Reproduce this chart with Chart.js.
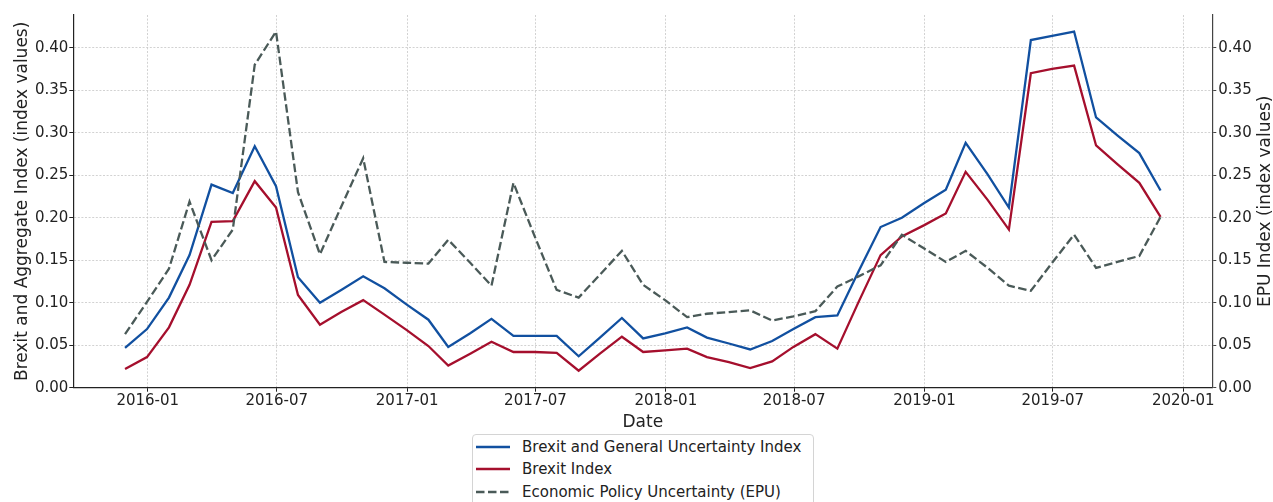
<!DOCTYPE html>
<html>
<head>
<meta charset="utf-8">
<script src="https://cdn.jsdelivr.net/npm/chart.js@4.4.0/dist/chart.umd.min.js"></script>
<style>
  html, body { margin: 0; padding: 0; background: #fff; overflow: hidden; }
  #wrap { position: relative; width: 1273px; height: 502px; }
  #legend {
    position: absolute; left: 472px; top: 434px; width: 342px; height: 90px;
    box-sizing: border-box; border: 1px solid #d4d4d4; border-radius: 4px;
    background: #fff; padding-top: 0.5px;
    font: 15px "DejaVu Sans", sans-serif; color: #222;
  }
  .row { height: 22.5px; line-height: 22.5px; display: flex; align-items: center; padding-left: 3px; white-space: nowrap; }
  .row svg { margin-right: 12px; flex: none; }
</style>
</head>
<body>
<div id="wrap">
  <canvas id="chart" width="1273" height="502"></canvas>
  <div id="legend"></div>
</div>
<script>
// monthly observations (month-end)
const months = [
  '2015-11', '2015-12',
  '2016-01', '2016-02', '2016-03', '2016-04', '2016-05', '2016-06',
  '2016-07', '2016-08', '2016-09', '2016-10', '2016-11', '2016-12',
  '2017-01', '2017-02', '2017-03', '2017-04', '2017-05', '2017-06',
  '2017-07', '2017-08', '2017-09', '2017-10', '2017-11', '2017-12',
  '2018-01', '2018-02', '2018-03', '2018-04', '2018-05', '2018-06',
  '2018-07', '2018-08', '2018-09', '2018-10', '2018-11', '2018-12',
  '2019-01', '2019-02', '2019-03', '2019-04', '2019-05', '2019-06',
  '2019-07', '2019-08', '2019-09', '2019-10', '2019-11'
];

const brexitGeneral = [
  0.047, 0.069,
  0.106, 0.156, 0.239, 0.229, 0.284, 0.237,
  0.130, 0.100, 0.115, 0.131, 0.117, 0.098,
  0.080, 0.048, 0.064, 0.081, 0.061, 0.061,
  0.061, 0.037, 0.059, 0.082, 0.058, 0.064,
  0.071, 0.059, 0.052, 0.045, 0.055, 0.069,
  0.083, 0.085, 0.137, 0.189, 0.200, 0.217,
  0.233, 0.288, 0.251, 0.212, 0.409, 0.414,
  0.419, 0.318, 0.297, 0.276, 0.232
];

const brexitOnly = [
  0.022, 0.036,
  0.071, 0.121, 0.195, 0.196, 0.243, 0.212,
  0.109, 0.074, 0.089, 0.103, 0.086, 0.068,
  0.049, 0.026, 0.040, 0.054, 0.042, 0.042,
  0.041, 0.020, 0.040, 0.060, 0.042, 0.044,
  0.046, 0.036, 0.030, 0.023, 0.031, 0.048,
  0.063, 0.046, 0.101, 0.156, 0.178, 0.191,
  0.205, 0.254, 0.221, 0.186, 0.370, 0.375,
  0.379, 0.285, 0.263, 0.241, 0.201
];

const epu = [
  0.063, 0.101,
  0.140, 0.219, 0.150, 0.186, 0.380, 0.419,
  0.230, 0.157, 0.213, 0.270, 0.148, 0.147,
  0.146, 0.174, 0.147, 0.120, 0.241, 0.178,
  0.115, 0.106, 0.133, 0.161, 0.121, 0.103,
  0.083, 0.087, 0.089, 0.091, 0.079, 0.084,
  0.090, 0.119, 0.131, 0.144, 0.180, 0.164,
  0.148, 0.161, 0.141, 0.120, 0.114, 0.147,
  0.180, 0.141, 0.148, 0.155, 0.201
];

const xTickLabels = ['2016-01', '2016-07', '2017-01', '2017-07', '2018-01', '2018-07', '2019-01', '2019-07', '2020-01'];
const yTickValues = [0, 0.05, 0.10, 0.15, 0.20, 0.25, 0.30, 0.35, 0.40];

const xRange = ['2015-09-18', '2020-02-11'];
const yMax = 0.4385;

const leftTitle = 'Brexit and Aggregate Index (index values)';
const rightTitle = 'EPU Index (index values)';

const textColor = '#222';
const gridColor = '#c6c6c6';

function monthEnd(s) {
  const [y, m] = s.split('-').map(Number);
  return Date.UTC(y, m, 0);
}
function monthStart(s) {
  const [y, m] = s.split('-').map(Number);
  return Date.UTC(y, m - 1, 1);
}
function dayValue(s) {
  const [y, m, d] = s.split('-').map(Number);
  return Date.UTC(y, m - 1, d);
}
function fmtMonth(v) {
  const d = new Date(v);
  return d.getUTCFullYear() + '-' + String(d.getUTCMonth() + 1).padStart(2, '0');
}

const xs = months.map(monthEnd);
const toPoints = vals => vals.map((v, i) => ({ x: xs[i], y: v }));

Chart.defaults.font.family = '"DejaVu Sans", sans-serif';
Chart.defaults.color = textColor;

// matplotlib-style right label reads bottom to top
const rightTitlePlugin = {
  id: 'rightTitle',
  afterDraw(chart) {
    const s = chart.scales.y2;
    const ctx = chart.ctx;
    ctx.save();
    ctx.translate(s.right - 7, (s.top + s.bottom) / 2);
    ctx.rotate(-Math.PI / 2);
    ctx.font = '17px "DejaVu Sans"';
    ctx.fillStyle = textColor;
    ctx.textAlign = 'center';
    ctx.textBaseline = 'middle';
    ctx.fillText(rightTitle, 0, 0);
    ctx.restore();
  }
};

const yTicks = scale => { scale.ticks = yTickValues.map(v => ({ value: v })); };

const chart = new Chart(document.getElementById('chart'), {
  type: 'line',
  data: {
    datasets: [
      {
        label: 'Brexit and General Uncertainty Index',
        data: toPoints(brexitGeneral),
        borderColor: '#1150a0',
        borderWidth: 2.3,
        yAxisID: 'y',
        order: 3
      },
      {
        label: 'Brexit Index',
        data: toPoints(brexitOnly),
        borderColor: '#a50f2d',
        borderWidth: 2.3,
        yAxisID: 'y',
        order: 2
      },
      {
        label: 'Economic Policy Uncertainty (EPU)',
        data: toPoints(epu),
        borderColor: '#4a5a58',
        borderWidth: 2.3,
        borderDash: [8.5, 3.5],
        yAxisID: 'y2',
        order: 1
      }
    ]
  },
  options: {
    responsive: false,
    animation: false,
    parsing: false,
    elements: { point: { radius: 0 }, line: { tension: 0 } },
    layout: { padding: { top: 15, bottom: 70.3, left: 0, right: 0 } },
    plugins: { legend: { display: false }, tooltip: { enabled: false } },
    scales: {
      x: {
        type: 'linear',
        min: dayValue(xRange[0]),
        max: dayValue(xRange[1]),
        afterBuildTicks: scale => { scale.ticks = xTickLabels.map(l => ({ value: monthStart(l) })); },
        afterFit: scale => { scale.height = 44; },
        ticks: {
          autoSkip: false, maxRotation: 0, minRotation: 0, padding: 0,
          color: textColor, font: { size: 15 },
          callback: v => fmtMonth(v)
        },
        grid: { color: gridColor, lineWidth: 0.8, tickColor: textColor, tickLength: 4, tickWidth: 1, tickBorderDash: [] },
        border: { color: textColor, width: 1.2, dash: [2, 1.6] },
        title: { display: true, text: 'Date', color: textColor, font: { size: 17 }, padding: { top: 0, bottom: -1.5 } }
      },
      y: {
        position: 'left',
        min: 0,
        max: yMax,
        afterBuildTicks: yTicks,
        afterFit: scale => { scale.width = 73.3; },
        ticks: { padding: 1, color: textColor, font: { size: 15 }, callback: v => v.toFixed(2) },
        grid: { color: gridColor, lineWidth: 0.8, tickColor: textColor, tickLength: 4, tickWidth: 1, tickBorderDash: [] },
        border: { color: textColor, width: 1.2, dash: [2, 1.6] },
        title: { display: true, text: leftTitle, color: textColor, font: { size: 17 }, padding: { top: 12, bottom: 0 } }
      },
      y2: {
        position: 'right',
        min: 0,
        max: yMax,
        afterBuildTicks: yTicks,
        afterFit: scale => { scale.width = 60.7; },
        ticks: { padding: 2, color: textColor, font: { size: 15 }, callback: v => v.toFixed(2) },
        grid: { drawOnChartArea: false, tickColor: '#444', tickLength: 4, tickWidth: 1, tickBorderDash: [] },
        border: { color: '#444', width: 1.2 },
        title: { display: false }
      }
    }
  },
  plugins: [rightTitlePlugin]
});

// legend box stacked like the original (one entry per row)
const legendEl = document.getElementById('legend');
chart.data.datasets.forEach(ds => {
  const row = document.createElement('div');
  row.className = 'row';
  const dash = ds.borderDash ? ds.borderDash.join(' ') : 'none';
  row.innerHTML =
    '<svg width="34" height="10"><line x1="0" y1="5" x2="34" y2="5" stroke="' + ds.borderColor +
    '" stroke-width="2.3" stroke-dasharray="' + dash + '"/></svg>';
  const label = document.createElement('span');
  label.textContent = ds.label;
  row.appendChild(label);
  legendEl.appendChild(row);
});
</script>
</body>
</html>
